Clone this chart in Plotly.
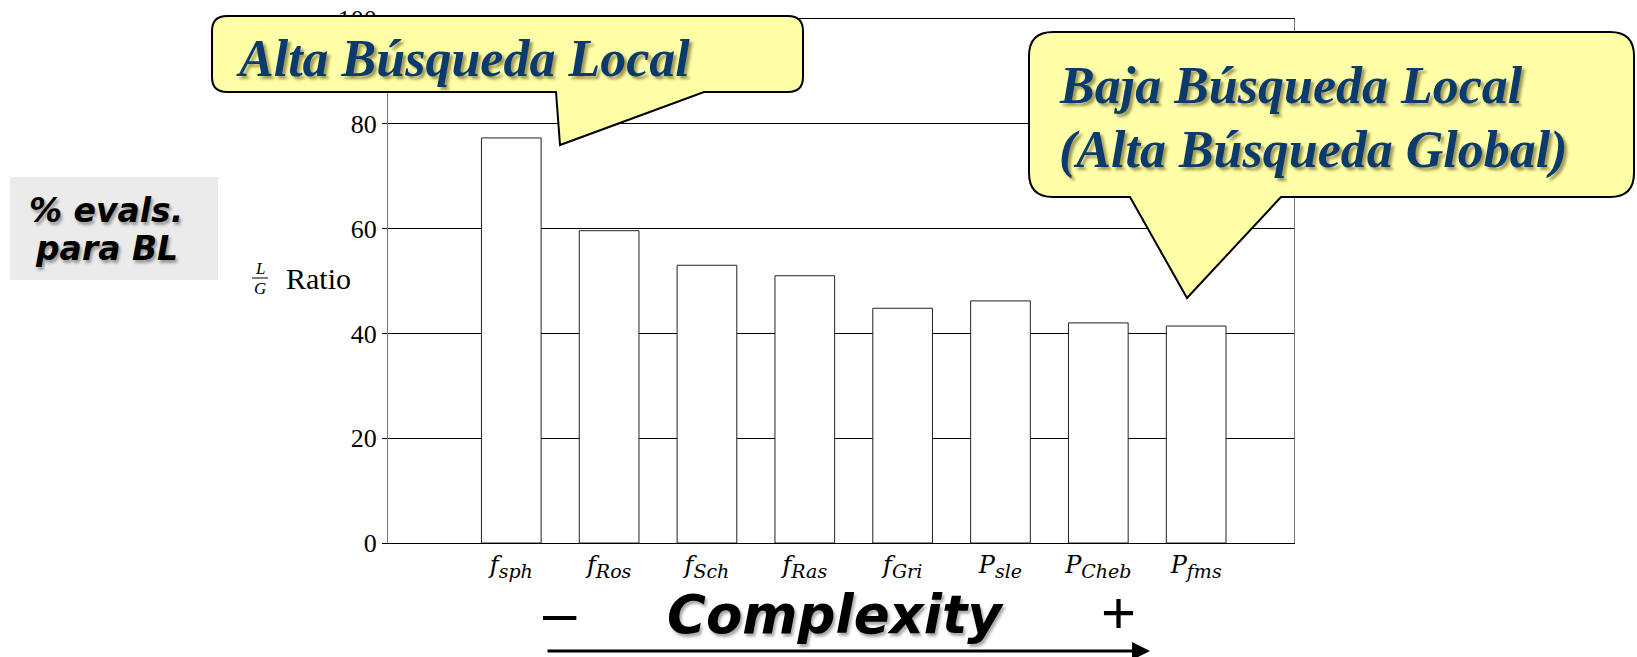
import plotly.graph_objects as go

W, H = 1637, 657

# ---- data ----
categories = ["f_sph", "f_Ros", "f_Sch", "f_Ras", "f_Gri", "P_sle", "P_Cheb", "P_fms"]
main_letters = ["f", "f", "f", "f", "f", "P", "P", "P"]
sub_letters = ["sph", "Ros", "Sch", "Ras", "Gri", "sle", "Cheb", "fms"]
ratio_values = [77.3, 59.6, 53.0, 51.0, 44.8, 46.2, 42.0, 41.4]
y_ticks = [0, 20, 40, 60, 80, 100]

tick_labels = [
    f"<i>{m}</i><sub><i><span style='font-size:19px'>{s}</span></i></sub>"
    for m, s in zip(main_letters, sub_letters)
]


def px(x):
    return x / W


def py(y):
    return 1 - y / H


SERIF = "Liberation Serif, Times New Roman, serif"
WSERIF = "DejaVu Serif, serif"
SANS = "DejaVu Sans, Verdana, sans-serif"

fig = go.Figure(
    go.Bar(
        x=categories,
        y=ratio_values,
        width=0.61,
        marker=dict(color="white", line=dict(color="#222222", width=1)),
        showlegend=False,
        hoverinfo="skip",
    )
)

fig.update_layout(
    template="none",
    width=W,
    height=H,
    autosize=False,
    margin=dict(l=0, r=0, t=0, b=0, pad=0),
    paper_bgcolor="white",
    plot_bgcolor="white",
    xaxis=dict(
        domain=[px(388), px(1294)],
        range=[-1.26, 8.0],
        automargin=False,
        showline=True,
        linecolor="black",
        linewidth=1,
        mirror=True,
        ticks="",
        tickmode="array",
        tickvals=categories,
        ticktext=tick_labels,
        tickfont=dict(family=WSERIF, size=24, color="black"),
        showgrid=False,
        zeroline=False,
    ),
    yaxis=dict(
        domain=[py(543), py(19)],
        range=[0, 100],
        automargin=False,
        showline=True,
        linecolor="#777777",
        linewidth=1,
        mirror=True,
        ticks="outside",
        ticklen=5,
        tickcolor="black",
        tickvals=y_ticks,
        tickfont=dict(family=SERIF, size=26, color="black"),
        showgrid=True,
        gridcolor="black",
        gridwidth=1,
        zeroline=False,
    ),
)


def callout_path(x0, y0, x1, y1, r, bl, br, tx, ty):
    pts = [
        ("M", [(x0 + r, y0)]),
        ("L", [(x1 - r, y0)]),
        ("Q", [(x1, y0), (x1, y0 + r)]),
        ("L", [(x1, y1 - r)]),
        ("Q", [(x1, y1), (x1 - r, y1)]),
        ("L", [(br, y1)]),
        ("L", [(tx, ty)]),
        ("L", [(bl, y1)]),
        ("L", [(x0 + r, y1)]),
        ("Q", [(x0, y1), (x0, y1 - r)]),
        ("L", [(x0, y0 + r)]),
        ("Q", [(x0, y0), (x0 + r, y0)]),
    ]
    s = ""
    for cmd, coords in pts:
        s += cmd + " " + " ".join(f"{px(a):.5f},{py(b):.5f}" for a, b in coords) + " "
    return s + "Z"


YELLOW = "#ffffa8"
shapes = [
    dict(type="rect", xref="paper", yref="paper", x0=px(10), x1=px(218), y0=py(280), y1=py(177),
         fillcolor="#ebebeb", line=dict(width=0), layer="above"),
    dict(type="path", xref="paper", yref="paper",
         path=callout_path(212, 16, 803, 92, 15, 556, 704, 560, 145),
         fillcolor=YELLOW, line=dict(color="black", width=2), layer="above"),
    dict(type="path", xref="paper", yref="paper",
         path=callout_path(1029, 32, 1634, 197, 24, 1130, 1281, 1187, 298),
         fillcolor=YELLOW, line=dict(color="black", width=2), layer="above"),
    dict(type="line", xref="paper", yref="paper", x0=px(252), x1=px(268), y0=py(278), y1=py(278),
         line=dict(color="black", width=1)),
]

NAVY = "#0b3a6e"
cshadow = "3px 3px 3px rgba(110,100,40,0.65)"
kshadow = "2px 3px 3px rgba(0,0,0,0.35)"

annotations = [
    dict(text="<b><i>Alta Búsqueda Local</i></b>", x=px(234), y=py(58), xanchor="left", yanchor="middle",
         font=dict(family=SERIF, size=52, color=NAVY, shadow=cshadow)),
    dict(text="<b><i>Baja Búsqueda Local</i></b>", x=px(1057), y=py(85), xanchor="left", yanchor="middle",
         font=dict(family=SERIF, size=52, color=NAVY, shadow=cshadow)),
    dict(text="<b><i>(Alta Búsqueda Global)</i></b>", x=px(1057), y=py(150), xanchor="left", yanchor="middle",
         font=dict(family=SERIF, size=52, color=NAVY, shadow=cshadow)),
    dict(text="<b><i>% evals.</i></b>", x=px(106), y=py(210), xanchor="center", yanchor="middle",
         font=dict(family=SANS, size=33, color="black", shadow=kshadow)),
    dict(text="<b><i>para BL</i></b>", x=px(106), y=py(248), xanchor="center", yanchor="middle",
         font=dict(family=SANS, size=33, color="black", shadow=kshadow)),
    dict(text="<i>L</i>", x=px(260), y=py(268), xanchor="center", yanchor="middle",
         font=dict(family=SERIF, size=17, color="black")),
    dict(text="<i>G</i>", x=px(260), y=py(288), xanchor="center", yanchor="middle",
         font=dict(family=SERIF, size=17, color="black")),
    dict(text="Ratio", x=px(284), y=py(278), xanchor="left", yanchor="middle",
         font=dict(family=SERIF, size=30, color="black")),
    dict(text="<b><i>Complexity</i></b>", x=px(836), y=py(614), xanchor="center", yanchor="middle",
         font=dict(family=SANS, size=53, color="black", shadow=kshadow)),
    dict(text="–", x=px(560), y=py(612), xanchor="center", yanchor="middle",
         font=dict(family="Liberation Sans, Arial, sans-serif", size=60, color="black")),
    dict(text="+", x=px(1118), y=py(612), xanchor="center", yanchor="middle",
         font=dict(family="Liberation Sans, Arial, sans-serif", size=60, color="black")),
    dict(text="", x=px(1150), y=py(651), ax=-(1150 - 546), ay=0, axref="pixel", ayref="pixel",
         showarrow=True, arrowhead=2, arrowsize=1.2, arrowwidth=3, arrowcolor="black"),
]
for a in annotations:
    a.setdefault("xref", "paper")
    a.setdefault("yref", "paper")
    a.setdefault("showarrow", False)

fig.update_layout(shapes=shapes, annotations=annotations)

fig.write_html(
    "out.html",
    config={"displayModeBar": False},
    post_script="document.body.style.margin='0';document.body.style.overflow='hidden';",
)
